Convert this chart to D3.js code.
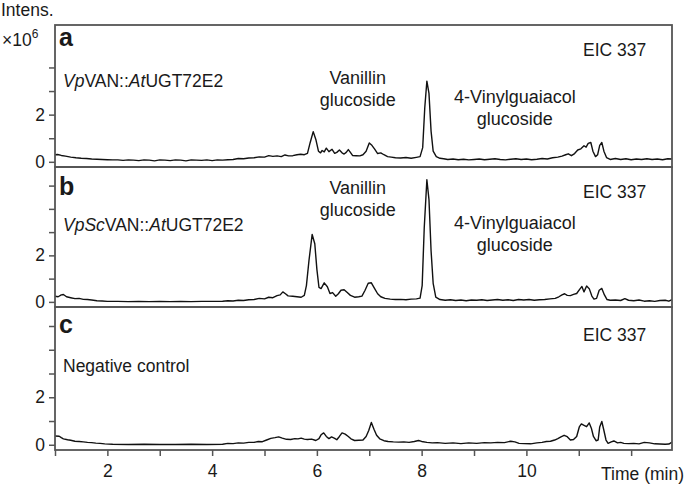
<!DOCTYPE html>
<html lang="en">
<head>
<meta charset="UTF-8">
<title>EIC 337</title>
<script src="https://d3js.org/d3.v7.min.js"></script>
<style>
  body { margin: 0; background: #fff; }
  svg text { font-family: "Liberation Sans", Arial, Helvetica, sans-serif; fill: #1a1a1a; }
  .frame { fill: none; stroke: #555; stroke-width: 1.8; }
  .axis path { display: none; }
  .axis line { stroke: #555; stroke-width: 1.5; }
  .axis text { font-size: 17.5px; fill: #1a1a1a; }
  .trace { fill: none; stroke: #111; stroke-width: 1.4; stroke-linejoin: round; }
</style>
</head>
<body>
<div id="chart"></div>
<script>
// retention time (min), intensity (x10^6)
var traceA = [[1.00,0.30],[1.05,0.31],[1.12,0.27],[1.2,0.24],[1.3,0.2],[1.4,0.17],[1.5,0.15],[1.6,0.14],[1.7,0.12],[1.8,0.11],[1.9,0.1],[2.0,0.09],[2.1,0.08],[2.2,0.08],[2.3,0.06],[2.4,0.08],[2.5,0.07],[2.6,0.05],[2.7,0.08],[2.8,0.07],[2.9,0.04],[3.0,0.08],[3.1,0.07],[3.2,0.05],[3.3,0.08],[3.4,0.07],[3.5,0.04],[3.6,0.08],[3.7,0.07],[3.8,0.06],[3.9,0.08],[4.0,0.05],[4.1,0.08],[4.2,0.07],[4.3,0.09],[4.4,0.1],[4.5,0.14],[4.6,0.13],[4.7,0.16],[4.8,0.17],[4.9,0.21],[5.0,0.2],[5.08,0.26],[5.16,0.23],[5.24,0.25],[5.32,0.22],[5.39,0.29],[5.46,0.25],[5.54,0.26],[5.62,0.3],[5.69,0.32],[5.76,0.3],[5.82,0.36],[5.87,0.8],[5.93,1.28],[5.98,0.95],[6.03,0.45],[6.07,0.38],[6.1,0.48],[6.14,0.42],[6.18,0.58],[6.23,0.43],[6.29,0.53],[6.34,0.36],[6.38,0.4],[6.43,0.5],[6.48,0.38],[6.52,0.33],[6.56,0.4],[6.6,0.52],[6.64,0.4],[6.68,0.27],[6.75,0.26],[6.82,0.25],[6.88,0.3],[6.94,0.45],[7.0,0.8],[7.05,0.7],[7.1,0.55],[7.16,0.35],[7.22,0.38],[7.28,0.3],[7.35,0.22],[7.42,0.2],[7.5,0.17],[7.6,0.16],[7.7,0.18],[7.8,0.15],[7.9,0.19],[7.97,0.22],[8.02,0.6],[8.06,2.3],[8.1,3.42],[8.14,2.9],[8.18,1.3],[8.22,0.45],[8.28,0.22],[8.35,0.15],[8.42,0.13],[8.5,0.1],[8.6,0.12],[8.7,0.09],[8.8,0.11],[8.9,0.08],[9.0,0.1],[9.1,0.12],[9.2,0.09],[9.3,0.11],[9.4,0.13],[9.5,0.1],[9.6,0.08],[9.7,0.11],[9.8,0.13],[9.9,0.1],[10.0,0.12],[10.1,0.09],[10.2,0.11],[10.3,0.14],[10.4,0.12],[10.5,0.17],[10.6,0.2],[10.68,0.24],[10.75,0.3],[10.8,0.34],[10.86,0.26],[10.92,0.35],[10.98,0.5],[11.04,0.55],[11.1,0.68],[11.14,0.62],[11.18,0.78],[11.23,0.82],[11.27,0.45],[11.32,0.22],[11.36,0.3],[11.4,0.7],[11.44,0.82],[11.48,0.45],[11.53,0.18],[11.6,0.1],[11.7,0.14],[11.8,0.1],[11.9,0.13],[12.0,0.09],[12.1,0.12],[12.2,0.1],[12.3,0.13],[12.4,0.1],[12.5,0.12],[12.6,0.09],[12.7,0.13],[12.78,0.12]];

var traceB = [[1.0,0.24],[1.06,0.22],[1.12,0.3],[1.16,0.32],[1.22,0.22],[1.3,0.18],[1.38,0.14],[1.46,0.15],[1.54,0.11],[1.62,0.1],[1.7,0.08],[1.8,0.05],[1.9,0.04],[2.0,0.02],[2.2,0.02],[2.4,0.01],[2.6,0.02],[2.8,0.01],[3.0,0.02],[3.2,0.01],[3.4,0.02],[3.6,0.01],[3.8,0.02],[4.0,0.02],[4.2,0.03],[4.3,0.05],[4.4,0.04],[4.5,0.07],[4.6,0.06],[4.7,0.09],[4.8,0.1],[4.9,0.15],[5.0,0.13],[5.08,0.2],[5.16,0.18],[5.24,0.27],[5.3,0.3],[5.35,0.43],[5.4,0.35],[5.45,0.26],[5.54,0.24],[5.62,0.22],[5.7,0.2],[5.76,0.28],[5.8,0.7],[5.85,1.8],[5.91,2.9],[5.96,2.5],[6.0,1.4],[6.04,0.62],[6.08,0.57],[6.14,0.82],[6.2,0.65],[6.25,0.36],[6.3,0.4],[6.36,0.24],[6.41,0.35],[6.46,0.5],[6.52,0.52],[6.58,0.4],[6.64,0.28],[6.72,0.2],[6.8,0.22],[6.86,0.25],[6.92,0.5],[6.98,0.8],[7.04,0.82],[7.1,0.58],[7.16,0.35],[7.22,0.22],[7.3,0.15],[7.4,0.12],[7.5,0.1],[7.6,0.11],[7.7,0.09],[7.8,0.12],[7.9,0.13],[7.97,0.16],[8.01,0.7],[8.05,3.2],[8.1,5.25],[8.14,4.4],[8.18,2.2],[8.22,0.8],[8.27,0.2],[8.35,0.1],[8.45,0.07],[8.55,0.09],[8.65,0.06],[8.75,0.08],[8.85,0.05],[8.95,0.08],[9.05,0.07],[9.15,0.09],[9.25,0.06],[9.35,0.08],[9.45,0.1],[9.55,0.07],[9.65,0.09],[9.75,0.06],[9.85,0.1],[9.95,0.08],[10.05,0.1],[10.15,0.07],[10.25,0.09],[10.35,0.1],[10.45,0.13],[10.55,0.15],[10.62,0.22],[10.68,0.3],[10.73,0.35],[10.78,0.28],[10.84,0.27],[10.9,0.32],[10.96,0.36],[11.02,0.55],[11.06,0.66],[11.1,0.43],[11.15,0.68],[11.2,0.57],[11.25,0.25],[11.29,0.12],[11.34,0.15],[11.39,0.5],[11.44,0.58],[11.49,0.3],[11.54,0.1],[11.6,0.07],[11.7,0.08],[11.8,0.06],[11.88,0.14],[11.95,0.07],[12.05,0.05],[12.15,0.08],[12.25,0.03],[12.35,0.05],[12.45,0.02],[12.55,0.06],[12.65,0.07],[12.72,0.03],[12.78,0.1]];

var traceC = [[1.0,0.37],[1.08,0.36],[1.12,0.3],[1.16,0.25],[1.24,0.21],[1.3,0.19],[1.38,0.15],[1.46,0.14],[1.54,0.12],[1.62,0.1],[1.7,0.09],[1.78,0.07],[1.86,0.06],[1.95,0.04],[2.1,0.02],[2.4,0.01],[2.7,0.02],[3.0,0.01],[3.3,0.01],[3.6,0.02],[3.9,0.01],[4.2,0.02],[4.3,0.06],[4.4,0.05],[4.5,0.08],[4.6,0.07],[4.7,0.1],[4.8,0.1],[4.88,0.14],[4.96,0.13],[5.04,0.2],[5.12,0.27],[5.2,0.3],[5.27,0.33],[5.34,0.28],[5.42,0.23],[5.5,0.22],[5.58,0.26],[5.64,0.25],[5.7,0.28],[5.76,0.24],[5.82,0.22],[5.9,0.24],[5.98,0.18],[6.04,0.26],[6.08,0.42],[6.13,0.5],[6.18,0.35],[6.23,0.26],[6.28,0.33],[6.34,0.27],[6.38,0.21],[6.43,0.35],[6.48,0.5],[6.54,0.45],[6.6,0.35],[6.65,0.25],[6.72,0.18],[6.8,0.19],[6.88,0.2],[6.94,0.35],[6.99,0.6],[7.04,0.94],[7.09,0.65],[7.14,0.4],[7.2,0.25],[7.28,0.17],[7.36,0.14],[7.46,0.12],[7.56,0.11],[7.66,0.12],[7.76,0.1],[7.86,0.14],[7.94,0.18],[8.0,0.14],[8.1,0.1],[8.2,0.08],[8.3,0.09],[8.45,0.06],[8.6,0.08],[8.75,0.05],[8.9,0.08],[9.05,0.06],[9.2,0.09],[9.32,0.08],[9.45,0.1],[9.58,0.09],[9.7,0.15],[9.78,0.12],[9.86,0.06],[9.96,0.05],[10.08,0.04],[10.2,0.08],[10.3,0.1],[10.38,0.14],[10.46,0.15],[10.54,0.2],[10.6,0.26],[10.66,0.33],[10.72,0.4],[10.78,0.34],[10.84,0.2],[10.9,0.22],[10.96,0.35],[11.01,0.75],[11.05,0.88],[11.1,0.82],[11.15,0.76],[11.2,0.92],[11.24,0.7],[11.28,0.35],[11.33,0.17],[11.37,0.2],[11.4,0.75],[11.44,0.98],[11.48,0.6],[11.52,0.2],[11.56,0.06],[11.62,0.12],[11.67,0.16],[11.74,0.08],[11.8,0.1],[11.86,0.06],[11.95,0.05],[12.05,0.06],[12.15,0.04],[12.25,0.1],[12.35,0.08],[12.45,0.04],[12.55,0.03],[12.65,0.02],[12.72,0.03],[12.78,0.11]];

var panelLetters = ["a", "b", "c"];
var sampleNames = [
  [["Vp", true], ["VAN::", false], ["At", true], ["UGT72E2", false]],
  [["VpSc", true], ["VAN::", false], ["At", true], ["UGT72E2", false]],
  [["Negative control", false]]
];
var eicLabel = "EIC 337";
var peakLabels = [["Vanillin", "glucoside"], ["4-Vinylguaiacol", "glucoside"]];
var xTicks = [1, 2, 3, 4, 5, 6, 7, 8, 9, 10, 11, 12];
var xTickLabels = [2, 4, 6, 8, 10];
var yTicksByPanel = [[0, 1, 2, 3, 4], [0, 1, 2, 3, 4, 5], [0, 1, 2, 3, 4, 5]];
var yTickLabels = [0, 2];

var width = 685, height = 485;
var left = 55, right = 672;
// panel layout: top/bottom and text baselines
var panels = [
  {top: 25,  bottom: 167, letterY: 46,  nameY: 87,  eicY: 56,  vanY: 84,  vgY: 103},
  {top: 167, bottom: 307, letterY: 195, nameY: 231, eicY: 198, vanY: 194, vgY: 229},
  {top: 307, bottom: 450, letterY: 333, nameY: 372, eicY: 341, vanY: null, vgY: null}
];
var traces = [traceA, traceB, traceC];

var svg = d3.select("#chart").append("svg")
  .attr("width", width).attr("height", height);

var x = d3.scaleLinear().domain([1, 12.78]).range([left, right]);

panels.forEach(function(p, i) {
  var y = d3.scaleLinear().domain([-0.22, 5.8]).range([p.bottom, p.top]);
  var g = svg.append("g");

  g.append("g")
    .attr("class", "axis")
    .attr("transform", "translate(" + left + ",0)")
    .call(d3.axisLeft(y).tickValues(yTicksByPanel[i]).tickSize(6).tickPadding(4)
      .tickFormat(function(d) { return yTickLabels.indexOf(d) >= 0 ? d : ""; }));

  var line = d3.line()
    .x(function(d) { return x(d[0]); })
    .y(function(d) { return y(d[1]); });

  g.append("path").datum(traces[i]).attr("class", "trace").attr("d", line);

  g.append("rect").attr("class", "frame")
    .attr("x", left).attr("y", p.top)
    .attr("width", right - left).attr("height", p.bottom - p.top);

  g.append("text").text(panelLetters[i])
    .attr("x", 59).attr("y", p.letterY)
    .style("font-size", "25px").style("font-weight", "bold");

  var nm = g.append("text").attr("x", 63).attr("y", p.nameY).style("font-size", "17.5px");
  sampleNames[i].forEach(function(s) {
    nm.append("tspan").text(s[0]).style("font-style", s[1] ? "italic" : "normal");
  });

  g.append("text").text(eicLabel)
    .attr("x", x(11.08)).attr("y", p.eicY).style("font-size", "17.5px");

  if (p.vanY !== null) {
    [[6.78, p.vanY], [9.78, p.vgY]].forEach(function(pos, k) {
      peakLabels[k].forEach(function(t, j) {
        g.append("text").text(t)
          .attr("x", x(pos[0])).attr("y", pos[1] + j * 21.5)
          .attr("text-anchor", "middle").style("font-size", "18px");
      });
    });
  }
});

svg.append("g")
  .attr("class", "axis")
  .attr("transform", "translate(0," + panels[2].bottom + ")")
  .call(d3.axisBottom(x).tickValues(xTicks).tickSize(6).tickPadding(9)
    .tickFormat(function(d) { return xTickLabels.indexOf(d) >= 0 ? d : ""; }));

svg.append("text").text("Intens.").attr("x", 1).attr("y", 16).style("font-size", "17.5px");
var mult = svg.append("text").attr("x", 2).attr("y", 46).style("font-size", "17.5px");
mult.append("tspan").text("\u00d710");
mult.append("tspan").text("6").attr("dy", -8).style("font-size", "12px");

svg.append("text").text("Time (min)")
  .attr("x", 684).attr("y", 480).attr("text-anchor", "end").style("font-size", "17.5px");
</script>
</body>
</html>
